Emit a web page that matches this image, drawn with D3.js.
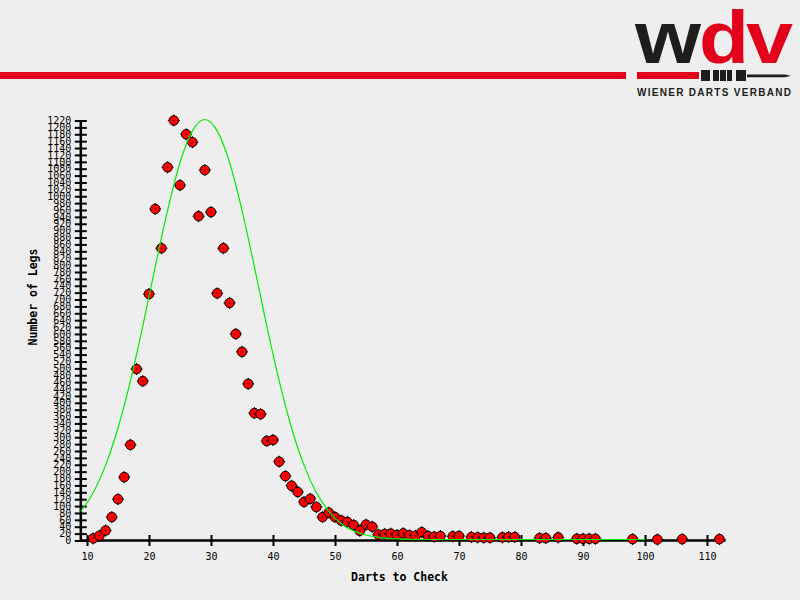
<!DOCTYPE html>
<html>
<head>
<meta charset="utf-8">
<script src="https://cdn.jsdelivr.net/npm/d3@7"></script>
<style>
  body { margin: 0; background: #eeeeee; }
  svg { display: block; }
</style>
</head>
<body>
<div id="chart"></div>
<script>
const SIZE = { width: 800, height: 600 };
const PLOT = { left: 80.8, right: 725.6, top: 120.5, bottom: 540.5 };

// darts needed to check out, and how many legs took that many
const darts = [11, 12, 13, 14, 15, 16, 17, 18, 19, 20, 21, 22, 23, 24, 25, 26, 27, 28, 29, 30,
  31, 32, 33, 34, 35, 36, 37, 38, 39, 40, 41, 42, 43, 44, 45, 46, 47, 48, 49, 50,
  51, 52, 53, 54, 55, 56, 57, 58, 59, 60, 61, 62, 63, 64, 65, 66, 67, 69, 70, 72,
  73, 74, 75, 77, 78, 79, 83, 84, 86, 89, 90, 91, 92, 98, 102, 106, 112];
const legs = [6, 14, 29, 68, 120, 184, 278, 498, 463, 716, 963, 849, 1084, 1220, 1032, 1180, 1157, 942, 1076, 954,
  718, 849, 690, 600, 548, 455, 370, 367, 289, 292, 229, 187, 159, 141, 112, 121, 97, 68, 81, 68,
  58, 54, 45, 28, 46, 40, 17, 19, 20, 16, 21, 15, 14, 24, 13, 11, 13, 12, 13, 10,
  9, 8, 8, 9, 10, 10, 7, 7, 9, 5, 5, 5, 5, 4, 3, 4, 4];

// green fitted curve
const fitDarts = [9, 11, 13, 15, 17, 19, 21, 23, 25, 27, 29, 31, 33, 35, 37, 39, 41, 43, 45, 47,
  49, 51, 53, 55, 57, 60, 65, 70, 80, 90, 100];
const fitLegs = [82, 136, 216, 324, 461, 620, 792, 956, 1095, 1187, 1220, 1187, 1095, 956, 792, 620, 461, 324, 216, 136,
  82, 46, 25, 13, 6, 2, 0, 0, 0, 0, 0];

const xTicks = [10, 20, 30, 40, 50, 60, 70, 80, 90, 100, 110];
const yTicks = d3.range(0, 1221, 20);

const svg = d3.select("#chart").append("svg")
    .attr("width", SIZE.width)
    .attr("height", SIZE.height)
    .style("background-color", "#eeeeee");

// header bar + logo
const RED = "#e2001a", DARK = "#1d1d1b";
svg.append("rect").attr("x", 0).attr("y", 72).attr("width", 626).attr("height", 7).attr("fill", RED);
svg.append("rect").attr("x", 637).attr("y", 72).attr("width", 62).attr("height", 7).attr("fill", RED);
[[701, 9], [713, 6], [720, 6], [727, 5], [736, 10]].forEach(([x, w]) => {
  svg.append("rect").attr("x", x).attr("y", 70).attr("width", w).attr("height", 11).attr("fill", DARK);
});
svg.append("path").attr("d", "M747,74.5 L785,74.5 L791,75.8 L785,77.2 L747,77.2 Z").attr("fill", DARK);
const logo = svg.append("g")
    .style("font-family", "'Liberation Sans', Arial, sans-serif")
    .style("font-weight", "bold")
    .style("font-size", "74px");
logo.append("text").attr("x", 635).attr("y", 63).attr("textLength", 66)
    .attr("lengthAdjust", "spacingAndGlyphs").attr("fill", DARK).text("w");
logo.append("text").attr("x", 699).attr("y", 63).attr("textLength", 50)
    .attr("lengthAdjust", "spacingAndGlyphs").attr("fill", RED).text("d");
logo.append("text").attr("x", 746).attr("y", 63).attr("textLength", 47)
    .attr("lengthAdjust", "spacingAndGlyphs").attr("fill", RED).text("v");
svg.append("text").attr("x", 637).attr("y", 95.5)
    .attr("textLength", 154).attr("lengthAdjust", "spacing")
    .style("font-family", "'Liberation Sans', Arial, sans-serif")
    .style("font-weight", "bold").style("font-size", "10px")
    .attr("fill", DARK).text("WIENER DARTS VERBAND");

// scales + axes
const xScale = d3.scaleLinear().domain([9, 113]).range([PLOT.left, PLOT.right]);
const yScale = d3.scaleLinear().domain([0, 1220]).range([PLOT.bottom, PLOT.top]);

const yAxis = d3.axisLeft(yScale).tickValues(yTicks).tickFormat(d3.format("d"))
    .tickSizeInner(6).tickSizeOuter(0).tickPadding(3.5);
const xAxis = d3.axisBottom(xScale).tickValues(xTicks).tickFormat(d3.format("d"))
    .tickSizeInner(6).tickSizeOuter(0).tickPadding(6.5);

const yG = svg.append("g").attr("transform", `translate(${PLOT.left}, 0)`).call(yAxis);
const xG = svg.append("g").attr("transform", `translate(0, ${PLOT.bottom})`).call(xAxis);

[yG, xG].forEach(g => {
  g.select(".domain").attr("stroke", "#000").attr("stroke-width", 2.5);
  g.selectAll(".tick line").attr("stroke", "#000").attr("stroke-width", 2);
  g.selectAll(".tick text")
      .attr("fill", "#000")
      .style("font-family", "'DejaVu Sans Mono', monospace")
      .style("font-size", "10px");
});
yG.selectAll(".tick line").attr("x1", 6);
xG.selectAll(".tick line").attr("y1", -5.5).attr("y2", 5.5);
xG.select(".domain").attr("d", `M${PLOT.left},0H${PLOT.right}`);
yG.select(".domain").attr("d", `M0,${PLOT.bottom}V${PLOT.top}`);

// axis titles
svg.append("text")
    .attr("transform", `translate(37, 297) rotate(-90)`)
    .attr("text-anchor", "middle")
    .style("font-family", "'DejaVu Sans Mono', monospace")
    .style("font-weight", "bold").style("font-size", "11.5px")
    .text("Number of Legs");
svg.append("text")
    .attr("x", 399.5).attr("y", 581)
    .attr("text-anchor", "middle")
    .style("font-family", "'DejaVu Sans Mono', monospace")
    .style("font-weight", "bold").style("font-size", "11.5px")
    .text("Darts to Check");

// points
const pts = darts.map((d, i) => ({ d: d, v: legs[i] }));
const marks = svg.append("g").selectAll("g.mark").data(pts).enter().append("g")
    .attr("class", "mark")
    .attr("transform", p => `translate(${xScale(p.d)}, ${yScale(p.v)})`);
marks.append("path")
    .attr("d", "M0,-6V6M-6,0H6")
    .attr("stroke", "#000").attr("stroke-width", 1);
marks.append("circle")
    .attr("r", 4.8)
    .attr("fill", "#ff0000")
    .attr("stroke", "#000")
    .attr("stroke-width", 1);
marks.append("rect")
    .attr("x", -0.6).attr("y", -0.6).attr("width", 1.2).attr("height", 1.2)
    .attr("fill", "#000");

// fitted curve on top
const line = d3.line()
    .x(d => xScale(d))
    .y((d, i) => yScale(fitLegs[i]) - 1)
    .curve(d3.curveMonotoneX);
svg.append("path")
    .attr("d", line(fitDarts))
    .attr("fill", "none")
    .attr("stroke", "#00ee00")
    .attr("stroke-width", 1.2);
</script>
</body>
</html>
